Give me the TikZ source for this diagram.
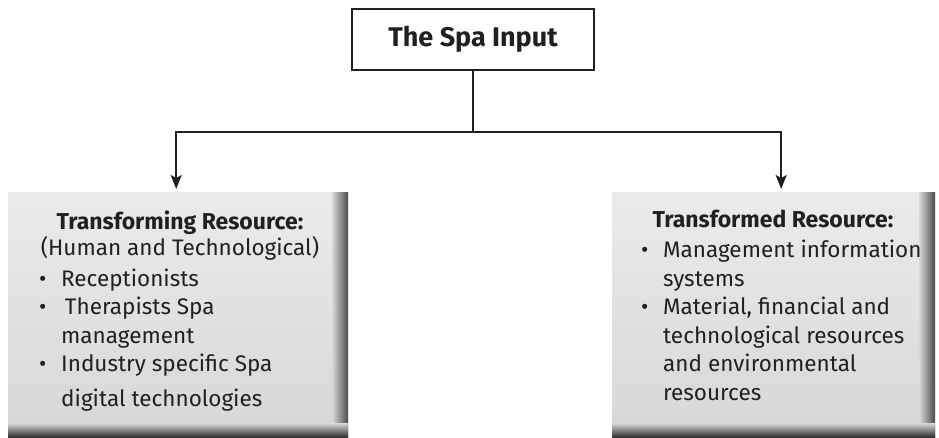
\documentclass[tikz,border=0pt]{standalone}
\usepackage{fontspec}
\setmainfont{Fira Sans}
\usetikzlibrary{arrows.meta,positioning,calc}
\definecolor{inkgray}{HTML}{231F20}
\definecolor{boxtop}{HTML}{EBEBEC}
\definecolor{boxbot}{HTML}{D6D7D8}
\definecolor{shadeR}{HTML}{4A4A4C}
\definecolor{shadeB}{HTML}{2E2E30}

\begin{document}
\begin{tikzpicture}[x=1pt,y=1pt]
\tikzset{
  inputbox/.style={rectangle,draw=inkgray,line width=1.8pt,minimum width=242pt,minimum height=61pt,
    font=\fontsize{27}{30}\selectfont\bfseries,text=inkgray},
  resbox/.style={rectangle,anchor=north west,minimum height=245pt,inner sep=0pt,
    path picture={
      \shade[top color=boxtop,bottom color=boxbot]
        (path picture bounding box.south west) rectangle (path picture bounding box.north east);
      \shade[left color=boxbot,right color=shadeR]
        ([xshift=-16pt]path picture bounding box.south east) rectangle (path picture bounding box.north east);
      \shade[top color=boxbot,bottom color=shadeB]
        (path picture bounding box.south west) rectangle ([yshift=14pt]path picture bounding box.south east);
    }},
  headtext/.style={align=center,text=inkgray,font=\fontsize{22.5}{26}\selectfont,anchor=base},
  listtext/.style={align=left,text=inkgray,font=\fontsize{22.5}{28.5}\selectfont,anchor=base west,inner sep=0pt},
  link/.style={draw=inkgray,line width=1.8pt},
  arrowlink/.style={link,-{Stealth[length=14pt,width=11pt,inset=3pt]}}
}
\useasboundingbox (0,0) rectangle (939,437);
\newcommand{\bul}{\makebox[22pt][l]{\textbullet}}
\newcommand{\hng}{\hspace*{22pt}}
\newcommand{\hdr}[1]{{\fontsize{23}{26}\selectfont\bfseries #1}}
% top of the tree
\node[inputbox] (spainput) at (473,397.5) {The Spa Input};
\coordinate (split) at (473,305);
% the two resource boxes
\node[resbox,minimum width=340pt] (transforming) at (8,245) {};
\node[resbox,minimum width=323pt] (transformed) at (612,245) {};
\draw[link] (spainput.south) -- (split);
\draw[arrowlink] (split) -| ([xshift=-2pt,yshift=3pt]transforming.north);
\draw[arrowlink] (split) -| ([xshift=7.5pt,yshift=3pt]transformed.north);
% texts (base = last line)
\node[headtext] (trghead) at (180,182) {\hdr{Transforming Resource:}\\(Human and Technological)};
\node[listtext] (trglist) at (39,31) {\bul Receptionists\\
  \bul\,Therapists Spa\\
  \hng management\\
  \bul Industry specific Spa\\[6pt]
  \hng digital technologies};
\node[headtext] (trdhead) at (773,210) {\hdr{Transformed Resource:}};
\node[listtext] (trdlist) at (641,37) {\bul Management information\\
  \hng systems\\
  \bul Material, financial and\\
  \hng technological resources\\
  \hng and environmental\\
  \hng resources};
\end{tikzpicture}
\end{document}
